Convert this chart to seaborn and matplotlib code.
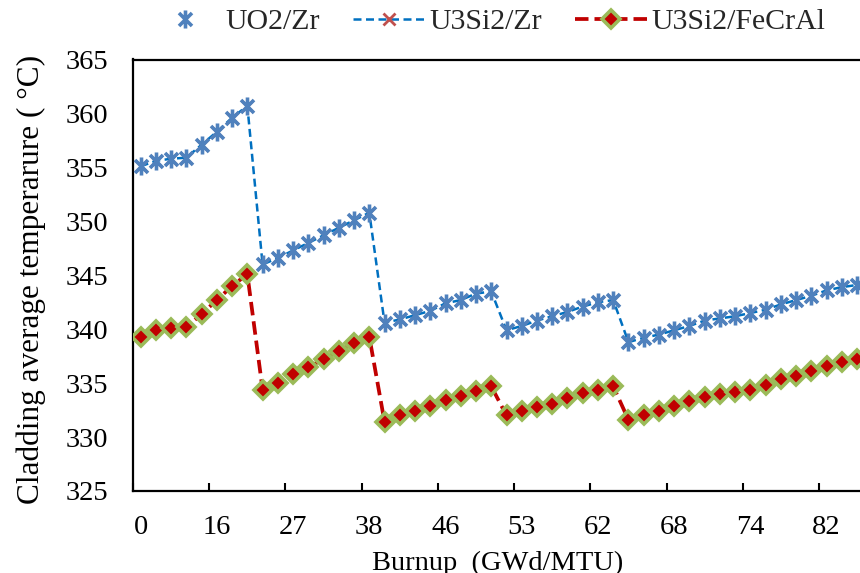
import numpy as np
import pandas as pd
import matplotlib
matplotlib.use("Agg")
import matplotlib.pyplot as plt
from matplotlib.path import Path
import seaborn as sns

# ---- data ----
uo2_zr = [355.1, 355.6, 355.8, 355.9, 357.1, 358.3, 359.6, 360.7,
          346.0, 346.6, 347.3, 348.0, 348.7, 349.4, 350.1, 350.8,
          340.6, 340.9, 341.3, 341.7, 342.4, 342.7, 343.3, 343.5,
          339.9, 340.3, 340.8, 341.2, 341.6, 342.1, 342.5, 342.7,
          338.8, 339.2, 339.5, 339.9, 340.3, 340.8, 341.0, 341.2,
          341.5, 341.8, 342.3, 342.7, 343.1, 343.6, 343.9, 344.1]
u3si2_zr = [355.1, 355.6, 355.8, 355.9, 357.1, 358.3, 359.6, 360.7,
            346.0, 346.6, 347.3, 348.0, 348.7, 349.4, 350.1, 350.8,
            340.6, 340.9, 341.3, 341.7, 342.4, 342.7, 343.3, 343.5,
            339.9, 340.3, 340.8, 341.2, 341.6, 342.1, 342.5, 342.7,
            338.8, 339.2, 339.5, 339.9, 340.3, 340.8, 341.0, 341.2,
            341.5, 341.8, 342.3, 342.7, 343.1, 343.6, 343.9, 344.1]
u3si2_fecral = [339.3, 339.9, 340.1, 340.2, 341.4, 342.7, 344.0, 345.1,
                334.4, 335.0, 335.8, 336.5, 337.2, 338.0, 338.7, 339.3,
                331.4, 332.0, 332.4, 332.9, 333.4, 333.8, 334.3, 334.7,
                332.0, 332.4, 332.8, 333.1, 333.6, 334.1, 334.4, 334.7,
                331.6, 332.0, 332.4, 332.9, 333.3, 333.7, 334.0, 334.2,
                334.4, 334.8, 335.4, 335.7, 336.1, 336.6, 337.0, 337.2]
burnup_labels = ["0", "16", "27", "38", "46", "53", "62", "68", "74", "82"]
y_ticks = [325, 330, 335, 340, 345, 350, 355, 360, 365]

idx = np.arange(len(uo2_zr))
df = pd.DataFrame({"idx": idx, "UO2/Zr": uo2_zr, "U3Si2/Zr": u3si2_zr,
                   "U3Si2/FeCrAl": u3si2_fecral})

sns.set_theme(style="white")
plt.rcParams["font.family"] = ["Liberation Serif", "DejaVu Serif"]

fig = plt.figure(figsize=(8.6, 5.73), dpi=100)
W, H = 860, 573
ax_l, ax_b, ax_r, ax_t = 133, 491, 880, 59.5
ax = fig.add_axes([ax_l / W, 1 - ax_b / H, (ax_r - ax_l) / W, (ax_b - ax_t) / H])

star = Path([(0, -1), (0, 1), (-0.72, -0.72), (0.72, 0.72), (-0.72, 0.72), (0.72, -0.72)],
            [Path.MOVETO, Path.LINETO, Path.MOVETO, Path.LINETO, Path.MOVETO, Path.LINETO])

blue_m = "#4F81BD"
sns.lineplot(data=df, x="idx", y="U3Si2/Zr", ax=ax, color="#0070C0", linewidth=1.8,
             dashes=False, linestyle=(0, (3.2, 1.8)), marker="x", markersize=8,
             markeredgecolor="#C0504D", markeredgewidth=2.0, label="U3Si2/Zr", zorder=2)
sns.lineplot(data=df, x="idx", y="UO2/Zr", ax=ax, color=blue_m, linestyle="none",
             marker=star, markersize=13, markeredgecolor=blue_m, markerfacecolor=blue_m,
             markeredgewidth=2.6, label="UO2/Zr", zorder=3)
sns.lineplot(data=df, x="idx", y="U3Si2/FeCrAl", ax=ax, color="#C00000", linewidth=2.7,
             linestyle=(0, (3.6, 1.6)), marker="D", markersize=9.5,
             markerfacecolor="#C00000", markeredgecolor="#9BBB59", markeredgewidth=2.6,
             label="U3Si2/FeCrAl", zorder=4)

ax.set_xlim(-0.5, 48.5)
ax.set_ylim(325, 365)
ax.set_yticks(y_ticks)
ax.set_yticklabels([str(v) for v in y_ticks])

# category boundaries -> tick marks; category centers -> labels
ax.set_xticks(np.arange(-0.5, 48, 5))
ax.set_xticklabels([])
ax.set_xticks(np.arange(0, len(burnup_labels) * 5, 5), minor=True)
ax.set_xticklabels(burnup_labels, minor=True)
ax.tick_params(axis="x", which="major", direction="in", length=6, width=1.5,
               color="black", bottom=True)
ax.tick_params(axis="x", which="minor", length=0, pad=17, labelsize=20.5, colors="black")
ax.tick_params(axis="y", length=0, pad=18, labelsize=20.5, colors="black")

for s in ax.spines.values():
    s.set_visible(True)
    s.set_color("black")
    s.set_linewidth(1.6)
ax.grid(False)

ax.set_xlabel("Burnup  (GWd/MTU)", fontsize=20.5, color="black")
ax.xaxis.set_label_coords((498 - ax_l) / (ax_r - ax_l), -(551 - ax_b) / (ax_b - ax_t))
ax.xaxis.label.set_va("top")
ax.set_ylabel("Cladding average temperarure ( °C)", fontsize=22.5, color="black")
ax.yaxis.set_label_coords(-(ax_l - 46) / (ax_r - ax_l), 0.49)

h, l = ax.get_legend_handles_labels()
order = [l.index("UO2/Zr"), l.index("U3Si2/Zr"), l.index("U3Si2/FeCrAl")]
ax.legend([h[i] for i in order], [l[i] for i in order], loc="center",
          bbox_to_anchor=(487 / W, 1 - 22 / H), bbox_transform=fig.transFigure,
          ncol=3, frameon=False, fontsize=21.5, handlelength=2.45, handletextpad=0.12,
          columnspacing=1.1, borderaxespad=0)

fig.savefig("out.png", dpi=100)
